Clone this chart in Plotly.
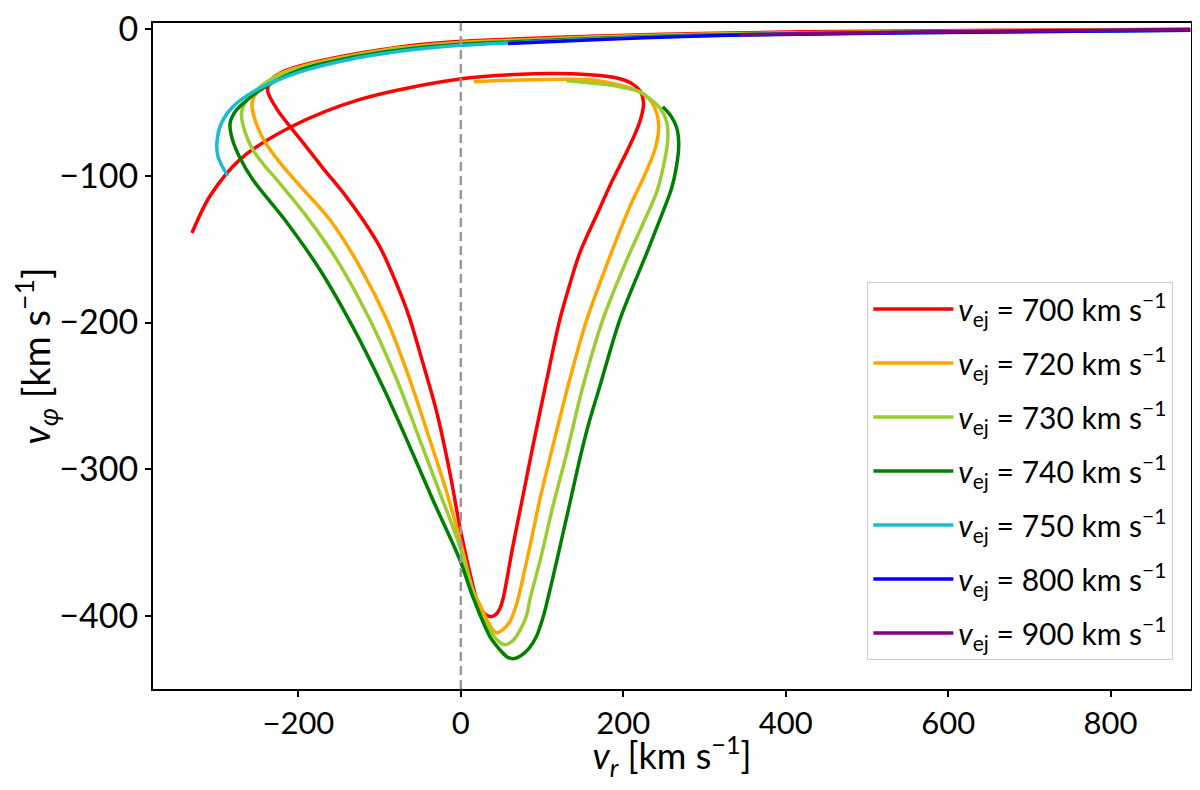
import plotly.graph_objects as go

# trajectories in (v_r, v_phi), km/s
vr_700 = [898, 663, 417, 294, 171, 73, 0, -75, -137, -174, -198, -217, -231, -238,
          -226, -198, -170, -142.8, -120.6, -99.7, -81.2, -64, -46.8, -29.5, -13.5, -1.2, 11.1, 19.7,
          25.8, 30.8, 36.9, 43, 48, 51.7,
          64, 76.3, 88.6, 105.8, 121.8, 134, 146.5, 167.4, 187, 204.3, 216.6, 222.8, 225, 221.5, 212.9, 195.7,
          159, 92, 1, -124, -210, -272, -309, -331]
vphi_700 = [-0.2, -1.0, -2.0, -3.1, -4.8, -6.8, -8.5, -12.3, -17.7, -21.8, -25.2, -28.6, -33.4, -41.5,
            -55, -74.9, -94.6, -113, -130, -148.4, -170.9, -195.4, -227.4, -261.4, -302.2, -339, -370.3, -388.7,
            -395.6, -398.9, -400.3, -398.9, -394.8, -388.7,
            -352.6, -318.6, -284.5, -238.9, -198.1, -174.3, -152.5, -126.6, -102.8, -83.7, -68.8, -58.5, -50.4,
            -42.9, -38.1, -34,
            -31.3, -30.6, -34, -48, -67, -89, -114, -139]

vr_720 = [898, 663, 417, 294, 171, 73, 0, -75, -137, -174, -198, -223, -239, -251, -257,
          -253.5, -241.2, -221.5, -198, -161.2, -124.3, -91.1, -62.8, -38.2, -17.2, -1.2, 14.8,
          23.4, 32, 38.2, 44.3, 51.7, 60.3, 66.5, 70.2,
          85, 97.2, 113.2, 134, 155, 183.4, 208, 226.5, 238.8, 243.7, 238.8, 226.5, 208, 183.4, 159, 85, 16]
vphi_720 = [-0.5, -1.4, -2.6, -3.6, -5.4, -7.5, -9.2, -12.9, -18.4, -22.5, -25.9, -30.6, -36.8, -42.9, -50.4,
            -61.9, -76.9, -91.9, -106.9, -130, -162, -198.1, -238.9, -279.8, -315.9, -347.9, -381.9,
            -392.1, -402.3, -408.4, -411.2, -409.1, -403.7, -395.4, -388.7,
            -352.6, -320.6, -284.5, -238.9, -198.1, -155.2, -121.2, -99.4, -82.4, -66.7, -53.8, -44.9,
            -40.2, -36.8, -34.7, -34.7, -36]

vr_730 = [898, 663, 417, 294, 171, 73, 0, -75, -137, -198, -235, -254, -265, -270,
          -265.8, -256, -242.5, -226.5, -189.5, -152.6, -112, -78.8, -50.5, -25.8, -1.2, 14.8, 23,
          35.7, 45.5, 54.2, 64, 72.6, 81.2, 85, 98.5, 113.2,
          130.5, 150.2, 174.8, 204.3, 226.5, 241.2, 249.8, 254.8, 253.5, 244.9, 231.4, 220.3, 189.5, 159, 130]
vphi_730 = [-0.7, -1.6, -2.9, -3.9, -5.9, -8.2, -9.9, -13.6, -19.1, -26.5, -34.7, -42.9, -49.7, -57.2,
            -70.1, -82.4, -92.6, -102.8, -128, -157.3, -198.1, -238.9, -279.8, -315.9, -352.6, -383.9, -397.5,
            -409.1, -416.6, -419.3, -416.6, -409.8, -398.9, -388.7, -360, -325.4,
            -288.6, -243.7, -198.1, -157.3, -130, -111, -92.6, -75.6, -63.3, -53.8, -47, -42.9,
            -38.8, -36.8, -35.4]

vr_740 = [898, 663, 417, 294, 171, 73, 0, -75, -137, -198, -241, -263, -277, -284,
          -281.8, -272, -256, -214, -173.5, -133, -96, -62.8, -34.5, -1.2, 14.8, 36,
          48, 56.6, 64, 73.8, 83.7, 93.5, 102.2, 108.3, 117, 126.8, 136.6, 147.7, 158.8,
          171, 195.7, 229, 247.4, 259.7, 265.8, 268.3, 265.8, 258.5, 248.6]
vphi_740 = [-0.8, -1.8, -3.2, -4.3, -6.3, -8.6, -10.4, -14.3, -19.7, -27.9, -39.5, -48.3, -55.8, -64,
            -74.2, -87.8, -102.8, -132, -164, -202.9, -243.7, -284.5, -320.6, -361.5, -386.7, -414,
            -422.7, -427.5, -428.9, -426.8, -422, -413.2, -398.9, -385.3, -364.9, -341, -317.2, -290, -266.2,
            -243.7, -198.1, -152.5, -126.6, -108.2, -92.6, -79, -67.4, -59.2, -53]

vr_750 = [898, 663, 417, 294, 171, 73, 0, -75, -137, -198, -251, -280.6, -294, -300, -299, -287]
vphi_750 = [-1.0, -2.0, -3.4, -4.6, -6.8, -9.2, -11.2, -15.3, -20.8, -29.3, -41.5, -53, -63.3, -75.6, -87, -100]

vr_800 = [898, 663, 417, 343, 294, 171, 58]
vphi_800 = [-1.0, -2.1, -3.6, -4.2, -4.8, -7.2, -10]

vr_900 = [898, 663, 500, 343]
vphi_900 = [-0.4, -1.6, -2.6, -4.0]

v_ej = [700, 720, 730, 740, 750, 800, 900]
colors = ["red", "orange", "yellowgreen", "green", "#17becf", "blue", "purple"]

series = [(vr_700, vphi_700), (vr_720, vphi_720), (vr_730, vphi_730), (vr_740, vphi_740),
          (vr_750, vphi_750), (vr_800, vphi_800), (vr_900, vphi_900)]

fig = go.Figure()

for (vr, vphi), v, c in zip(series, v_ej, colors):
    fig.add_trace(go.Scatter(
        x=vr, y=vphi, mode="lines",
        line=dict(color=c, width=3.5, shape="spline", smoothing=0.9),
        name="<i>v</i><sub>ej</sub> = %d km s<sup>\u22121</sup>" % v,
        legendgroup=str(v),
    ))

# dashed line at v_r = 0, drawn over the curves
fig.add_vline(x=0, line=dict(color="#999999", width=2.5, dash="9px,5px"), layer="above")

fnt = "Lato, Open Sans, sans-serif"
axis_common = dict(
    showline=True, linecolor="black", linewidth=2, mirror=True,
    ticks="outside", ticklen=6, tickwidth=1.5, tickcolor="black",
    showgrid=False, zeroline=False, automargin=False, ticklabeloverflow="allow",
)

# page body adds an 8px offset, so the figure is sized to fit inside the window
fig.update_layout(
    width=1184, height=774,
    margin=dict(l=145, r=1, t=15, b=93),
    plot_bgcolor="white", paper_bgcolor="white",
    font=dict(family=fnt, color="black"),
    xaxis=dict(range=[-379, 899], tickvals=[-200, 0, 200, 400, 600, 800],
               tickfont=dict(family=fnt, size=31, color="black"),
               title=dict(text="<i>v<sub>r</sub></i> [km s<sup>\u22121</sup>]",
                          font=dict(size=36), standoff=14),
               **axis_common),
    yaxis=dict(range=[-449.5, 4], tickvals=[0, -100, -200, -300, -400],
               tickfont=dict(family=fnt, size=34, color="black"),
               title=dict(text="<i>v<sub>\u03c6</sub></i> [km s<sup>\u22121</sup>]",
                          font=dict(size=38), standoff=10),
               **axis_common),
    legend=dict(x=0.983, y=0.0435, xanchor="right", yanchor="bottom",
                bgcolor="white", bordercolor="#cccccc", borderwidth=1,
                font=dict(family=fnt, size=30), tracegroupgap=12, itemwidth=80),
    showlegend=True,
)

fig.write_html("out.html")
